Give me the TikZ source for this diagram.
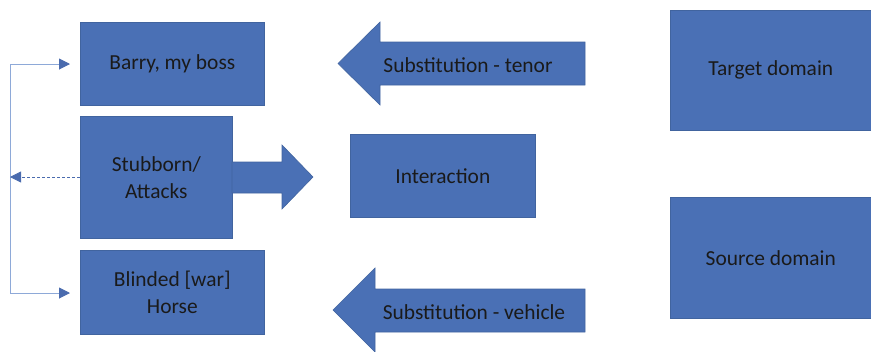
\documentclass[tikz,border=0pt]{standalone}
\usepackage{fontspec}
\setmainfont{Carlito}
\usetikzlibrary{arrows.meta}
\definecolor{boxblue}{HTML}{4A70B5}
\definecolor{boxedge}{HTML}{41649F}
\definecolor{lineblue}{HTML}{8EA9D8}
\definecolor{dashblue}{HTML}{4A6BAE}
\definecolor{txt}{HTML}{1A1A1A}
\tikzset{
  box/.style={draw=boxedge, line width=0.6pt, fill=boxblue, text=txt, font=\fontsize{21.5}{27}\selectfont, align=center, inner sep=0pt},
  bigarrow/.style={draw=boxedge, line width=0.6pt, fill=boxblue},
  lbl/.style={text=txt, font=\fontsize{21.5}{27}\selectfont, inner sep=0pt},
  link/.style={draw=lineblue, line width=1pt, -{Triangle[length=11bp,width=11bp,color=dashblue]}, shorten >=10bp},
  dlink/.style={draw=dashblue, line width=0.8pt, dashed, dash pattern=on 3pt off 2pt, -{Triangle[length=11bp,width=11bp]}}
}
\begin{document}
\begin{tikzpicture}[x=1bp,y=-1bp]
\useasboundingbox (0,0) rectangle (871,351);
% boxes
\node[box, minimum width=184bp, minimum height=83bp, anchor=north west] (barry) at (80,22) {Barry, my boss};
\node[box, minimum width=152bp, minimum height=122bp, anchor=north west] (stub) at (80,116) {Stubborn/\\Attacks};
\node[box, minimum width=184bp, minimum height=84bp, anchor=north west] (blind) at (80,250) {Blinded [war]\\Horse};
\node[box, minimum width=185bp, minimum height=83bp, anchor=north west] (inter) at (350,134) {Interaction};
\node[box, minimum width=201bp, minimum height=120bp, anchor=north west] (target) at (670,10) {Target domain};
\node[box, minimum width=201bp, minimum height=121bp, anchor=north west] (source) at (670,197) {Source domain};
% block arrows
\draw[bigarrow] (232,162) -- (282,162) -- (282,145) -- (313,177) -- (282,209) -- (282,193) -- (232,193) -- cycle;
\draw[bigarrow] (585,42) -- (380,42) -- (380,22) -- (338,63.5) -- (380,105) -- (380,85) -- (585,85) -- cycle;
\node[lbl] (tenor) at (468,65) {Substitution - tenor};
\draw[bigarrow] (585,289) -- (375,289) -- (375,268) -- (333,310) -- (375,352) -- (375,332) -- (585,332) -- cycle;
\node[lbl] (vehicle) at (474,312) {Substitution - vehicle};
% left bracket connectors
\coordinate (lt) at (10,64);
\coordinate (lm) at (10,177);
\coordinate (lb) at (10,293);
\draw[lineblue, line width=1pt] (lt) -- (lb);
\draw[link] (lt) -- (barry.west |- lt) ;
\draw[link] (lb) -- (blind.west |- lb);
\draw[dlink] (stub.west |- lm) -- (lm);
\end{tikzpicture}
\end{document}
